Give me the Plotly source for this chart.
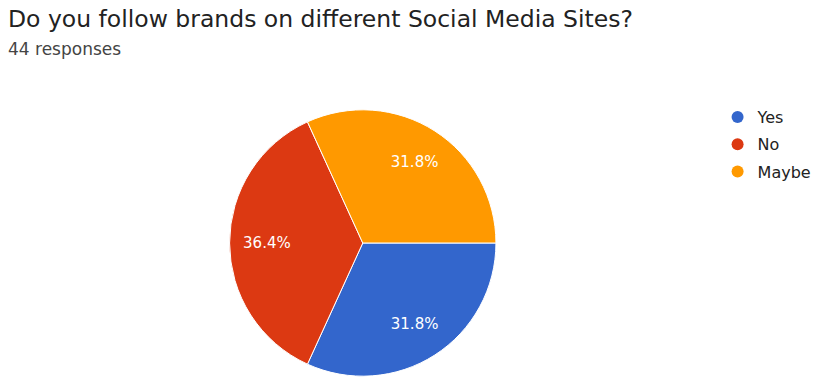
import plotly.graph_objects as go

labels = ["Yes", "No", "Maybe"]
counts = [14, 16, 14]
colors = ["#3366cc", "#dc3912", "#ff9900"]
title_text = "Do you follow brands on different Social Media Sites?"
subtitle_text = "44 responses"

W, H = 817, 377
cx, cy, r = 365, 243, 134
dom = dict(x=[(cx - r) / W, (cx + r) / W], y=[(H - cy - r) / H, (H - cy + r) / H])

fig = go.Figure()
# solid pie
fig.add_trace(go.Pie(
    labels=labels, values=counts, sort=False, direction="clockwise", rotation=90,
    marker=dict(colors=colors, line=dict(color="white", width=1)),
    textinfo="none", showlegend=False, hoverinfo="label+percent", domain=dom,
))
# transparent ring carrying the percentage labels further out
fig.add_trace(go.Pie(
    labels=labels, values=counts, sort=False, direction="clockwise", rotation=90,
    hole=0.44,
    marker=dict(colors=["rgba(0,0,0,0)"] * len(labels), line=dict(width=0)),
    texttemplate="%{percent:.1%}", textposition="inside",
    insidetextorientation="horizontal",
    textfont=dict(color="white", size=15, family="DejaVu Sans"),
    showlegend=False, hoverinfo="skip", domain=dom,
))
for lab, col in zip(labels, colors):
    fig.add_trace(go.Scatter(x=[None], y=[None], mode="markers", name=lab,
                             legendgroup=lab,
                             marker=dict(symbol="circle", size=16, color=col)))

fig.update_layout(
    width=W, height=H, margin=dict(l=0, r=0, t=0, b=0),
    paper_bgcolor="white", plot_bgcolor="white",
    xaxis=dict(visible=False), yaxis=dict(visible=False),
    legend=dict(x=722 / W, y=1 - 100 / H, xanchor="left", yanchor="top",
                font=dict(size=16, color="#222222", family="DejaVu Sans"),
                itemsizing="constant", tracegroupgap=3.5, bgcolor="rgba(0,0,0,0)"),
    annotations=[
        dict(text=title_text, x=6 / W, y=1 - 19 / H, xref="paper", yref="paper",
             xanchor="left", yanchor="middle", showarrow=False,
             font=dict(size=23.5, color="#222222", family="DejaVu Sans")),
        dict(text=subtitle_text, x=6 / W, y=1 - 49 / H, xref="paper", yref="paper",
             xanchor="left", yanchor="middle", showarrow=False,
             font=dict(size=17, color="#444444", family="DejaVu Sans")),
    ],
)
fig.write_html("out.html")
